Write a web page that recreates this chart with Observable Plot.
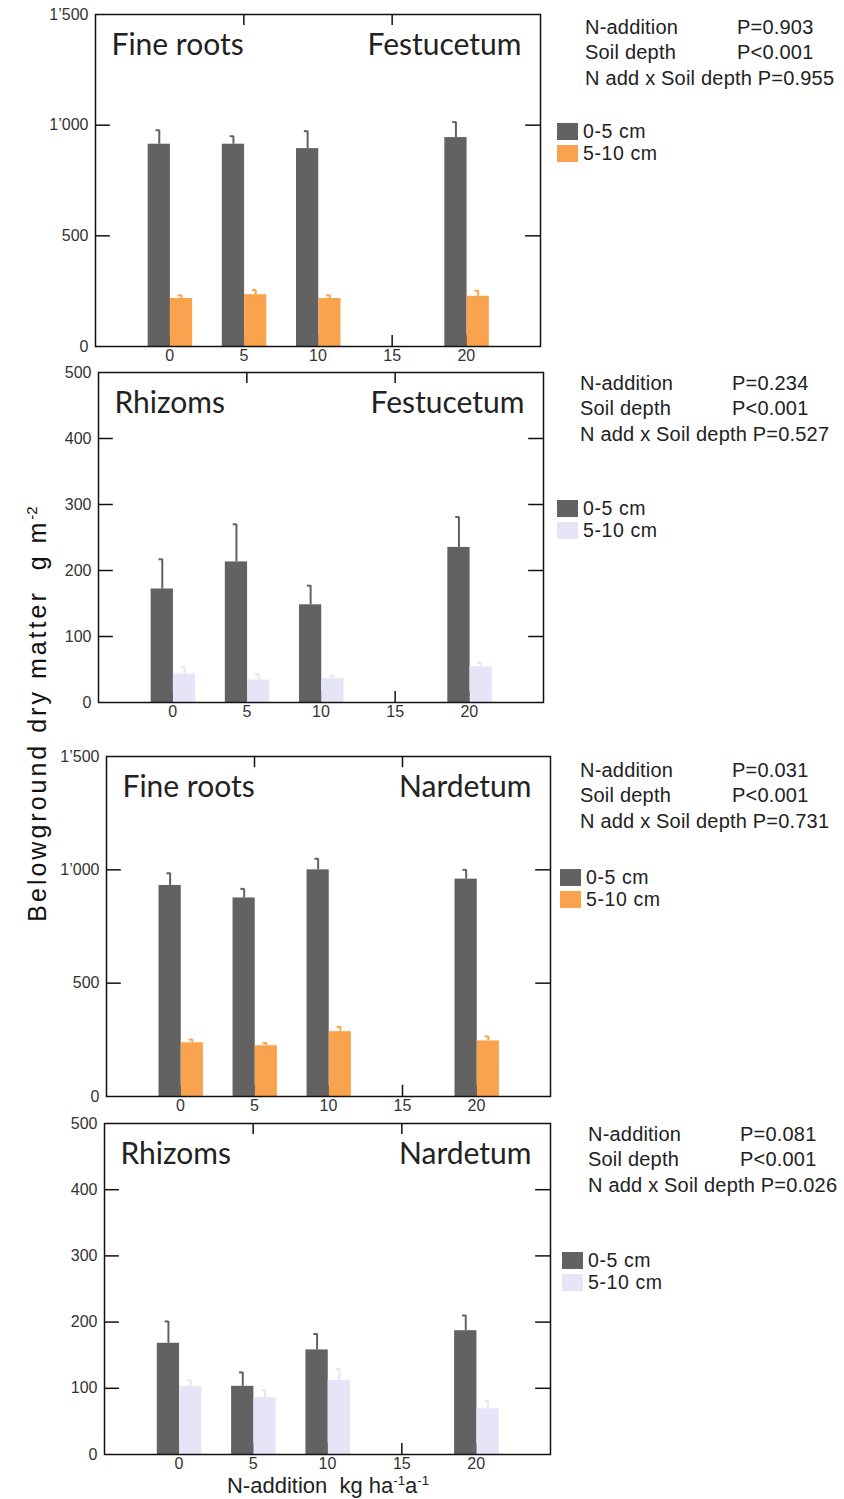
<!DOCTYPE html>
<html><head><meta charset="utf-8">
<script src="https://cdn.jsdelivr.net/npm/d3@7"></script>
<script src="https://cdn.jsdelivr.net/npm/@observablehq/plot@0.6"></script>
<style>
body{margin:0;background:#fff;}
#root{position:relative;width:844px;height:1499px;background:#fff;overflow:hidden;font-family:"Liberation Sans",Arial,sans-serif;color:#222;}
.panel{position:absolute;left:0;}
.ann{position:absolute;font-size:20px;line-height:25.5px;white-space:pre;color:#222;letter-spacing:0.2px;}
.leg{position:absolute;font-size:19.5px;line-height:22px;white-space:pre;color:#222;letter-spacing:0.6px;}
.sw{display:inline-block;width:21px;height:17px;vertical-align:-2px;margin-right:5px;}
.ytitle{position:absolute;white-space:nowrap;font-size:25px;line-height:28px;letter-spacing:3px;transform:translate(-50%,-50%) rotate(-90deg);color:#111;}
.xtitle{position:absolute;white-space:nowrap;font-size:22px;line-height:24px;transform:translateX(-50%);color:#222;}
.sup{font-size:0.6em;vertical-align:0.6em;letter-spacing:0;}
</style></head><body><div id="root"></div>
<script>
// ---- data ----
const nLevels = [0, 5, 10, 20];
const xTickValues = [0, 5, 10, 15, 20];
const xTopTicks = [5, 15];
const depths = ["0-5 cm", "5-10 cm"];
const rootsYTicks = [0, 500, 1000, 1500];
const rootsYLabels = ["0", "500", "1’000", "1’500"];
const rhizYTicks = [0, 100, 200, 300, 400, 500];
const rhizYLabels = ["0", "100", "200", "300", "400", "500"];
const statLabels = ["N-addition", "Soil depth", "N add x Soil depth"];

const festFineMean0 = [914, 914, 894, 944];
const festFineSe0   = [63, 36, 79, 70];
const festFineMean5 = [217, 234, 217, 227];
const festFineSe5   = [14, 21, 14, 25];
const festFineP     = ["P=0.903", "P<0.001", "P=0.955"];

const festRhizMean0 = [172, 213, 148, 235];
const festRhizSe0   = [45, 57, 29, 46];
const festRhizMean5 = [43, 34, 36, 54];
const festRhizSe5   = [10, 9, 4, 6];
const festRhizP     = ["P=0.234", "P<0.001", "P=0.527"];

const nardFineMean0 = [931, 876, 1000, 959];
const nardFineSe0   = [54, 40, 49, 41];
const nardFineMean5 = [237, 224, 286, 245];
const nardFineSe5   = [14, 12, 21, 20];
const nardFineP     = ["P=0.031", "P<0.001", "P=0.731"];

const nardRhizMean0 = [168, 103, 158, 187];
const nardRhizSe0   = [33, 21, 24, 23];
const nardRhizMean5 = [103, 86, 112, 69];
const nardRhizSe5   = [9, 11, 17, 12];
const nardRhizP     = ["P=0.081", "P<0.001", "P=0.026"];

// ---- styles ----
const cDark = "#626262", cOrange = "#f9a34e", cLav = "#e5e5f7";
const root = document.getElementById("root");
const MT = 16, MB = 24;

function panel(cfg) {
  const {top, left, right, bottom, ymax, yTicks, yLabels, mean0, se0, mean5, se5, c5, title, site} = cfg;
  const d0 = nLevels.map((n, i) => ({n, mean: mean0[i], se: se0[i]}));
  const d5 = nLevels.map((n, i) => ({n, mean: mean5[i], se: se5[i]}));
  const off0 = [-1.45, 0.05], off5 = [0.05, 1.55];
  const cap = 0.22;
  const inner = yTicks.filter(t => t > 0 && t < ymax);
  const labelMap = new Map(yTicks.map((t, i) => [t, yLabels[i]]));
  const tk = ymax * 0.033;
  const bars = (d, off, col) => {
    const c = (off[0] + off[1]) / 2;
    return [
      Plot.rect(d, {x1: r => r.n + off[0], x2: r => r.n + off[1], y1: () => 0, y2: "mean", fill: col}),
      Plot.ruleX(d, {x: r => r.n + c, y1: "mean", y2: r => r.mean + r.se, stroke: col, strokeWidth: 2}),
      Plot.ruleY(d, {y: r => r.mean + r.se, x1: r => r.n + c - cap, x2: r => r.n + c + 0.03, stroke: col, strokeWidth: 2})
    ];
  };
  const svg = Plot.plot({
    width: 844,
    height: (bottom - top) + MT + MB,
    marginLeft: left, marginRight: 844 - right, marginTop: MT, marginBottom: MB,
    x: {domain: [-5, 25]},
    y: {domain: [0, ymax]},
    style: {background: "transparent", overflow: "visible", fontFamily: "'Liberation Sans', Arial, sans-serif", fontSize: "16px", color: "#333"},
    marks: [
      Plot.ruleX(xTickValues, {x: d => d, y1: 0, y2: tk, stroke: "#111", strokeWidth: 1.5}),
      Plot.ruleX(xTopTicks, {x: d => d, y1: ymax, y2: ymax - tk, stroke: "#111", strokeWidth: 1.5}),
      Plot.ruleY(inner, {y: d => d, x1: -5, x2: -4, stroke: "#111", strokeWidth: 1.5}),
      Plot.ruleY(inner, {y: d => d, x1: 24, x2: 25, stroke: "#111", strokeWidth: 1.5}),
      ...bars(d0, off0, cDark),
      ...bars(d5, off5, c5),
      Plot.frame({stroke: "#111", strokeWidth: 1.5}),
      Plot.axisY({ticks: yTicks, tickFormat: d => labelMap.get(d), tickSize: 0, tickPadding: 7, fontSize: 16, label: null}),
      Plot.axisX({ticks: xTickValues, tickSize: 0, tickPadding: 3, fontSize: 16, label: null}),
      Plot.text([title], {text: d => d, frameAnchor: "top-left", textAnchor: "start", lineAnchor: "top", dx: 16, dy: 19, fontFamily: "Lato", fontSize: 30, fill: "#222"}),
      Plot.text([site], {text: d => d, frameAnchor: "top-right", textAnchor: "end", lineAnchor: "top", dx: -19, dy: 19, fontFamily: "Lato", fontSize: 30, fill: "#222"})
    ]
  });
  svg.classList.add("panel");
  svg.style.top = (top - MT) + "px";
  root.appendChild(svg);
}

function stats(x, xP, yCenter, pvals) {
  const div = document.createElement("div");
  div.className = "ann";
  div.style.left = x + "px";
  div.style.top = (yCenter - 12.5) + "px";
  div.innerHTML =
    `<div style="position:relative">${statLabels[0]}<span style="position:absolute;left:${xP - x}px">${pvals[0]}</span></div>` +
    `<div style="position:relative">${statLabels[1]}<span style="position:absolute;left:${xP - x}px">${pvals[1]}</span></div>` +
    `<div>${statLabels[2]} ${pvals[2]}</div>`;
  root.appendChild(div);
}

function legend(x, yCenter, c5) {
  const div = document.createElement("div");
  div.className = "leg";
  div.style.left = x + "px";
  div.style.top = (yCenter - 11) + "px";
  div.innerHTML = `<div><span class="sw" style="background:${cDark}"></span>${depths[0]}</div>` +
                  `<div><span class="sw" style="background:${c5}"></span>${depths[1]}</div>`;
  root.appendChild(div);
}

panel({top: 14, left: 95, right: 540, bottom: 346, ymax: 1500, yTicks: rootsYTicks, yLabels: rootsYLabels,
  mean0: festFineMean0, se0: festFineSe0, mean5: festFineMean5, se5: festFineSe5, c5: cOrange, title: "Fine roots", site: "Festucetum"});
panel({top: 372, left: 98, right: 543, bottom: 702, ymax: 500, yTicks: rhizYTicks, yLabels: rhizYLabels,
  mean0: festRhizMean0, se0: festRhizSe0, mean5: festRhizMean5, se5: festRhizSe5, c5: cLav, title: "Rhizoms", site: "Festucetum"});
panel({top: 756, left: 106, right: 550, bottom: 1096, ymax: 1500, yTicks: rootsYTicks, yLabels: rootsYLabels,
  mean0: nardFineMean0, se0: nardFineSe0, mean5: nardFineMean5, se5: nardFineSe5, c5: cOrange, title: "Fine roots", site: "Nardetum"});
panel({top: 1123, left: 104, right: 550, bottom: 1454, ymax: 500, yTicks: rhizYTicks, yLabels: rhizYLabels,
  mean0: nardRhizMean0, se0: nardRhizSe0, mean5: nardRhizMean5, se5: nardRhizSe5, c5: cLav, title: "Rhizoms", site: "Nardetum"});

stats(585, 737, 27, festFineP);
stats(580, 732, 383, festRhizP);
stats(580, 732, 770, nardFineP);
stats(588, 740, 1134, nardRhizP);

legend(557, 131, cOrange);
legend(557, 508, cLav);
legend(560, 877, cOrange);
legend(562, 1260, cLav);

const yt = document.createElement("div");
yt.className = "ytitle";
yt.style.left = "34px"; yt.style.top = "714px";
yt.innerHTML = `Belowground dry matter&nbsp; g m<span class="sup">-2</span>`;
root.appendChild(yt);

const xt = document.createElement("div");
xt.className = "xtitle";
xt.style.left = "328px"; xt.style.top = "1469px";
xt.innerHTML = `N-addition&nbsp; kg ha<span class="sup">-1</span>a<span class="sup">-1</span>`;
root.appendChild(xt);
</script>
</body></html>
